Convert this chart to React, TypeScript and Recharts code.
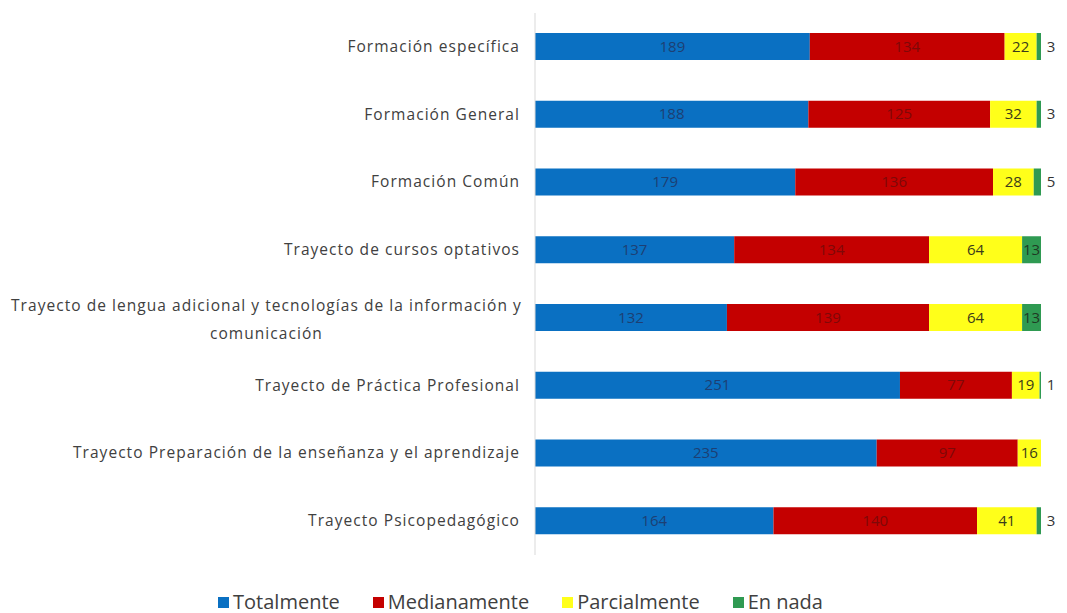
import { Bar, BarChart, LabelList, Legend, XAxis, YAxis } from "recharts"

const categories = [
  "Formación específica",
  "Formación General",
  "Formación Común",
  "Trayecto de cursos optativos",
  "Trayecto de lengua adicional y tecnologías de la información y comunicación",
  "Trayecto de Práctica Profesional",
  "Trayecto Preparación de la enseñanza y el aprendizaje",
  "Trayecto Psicopedagógico",
]
const totalmente = [189, 188, 179, 137, 132, 251, 235, 164]
const medianamente = [134, 125, 136, 134, 139, 77, 97, 140]
const parcialmente = [22, 32, 28, 64, 64, 19, 16, 41]
const enNada = [3, 3, 5, 13, 13, 1, 0, 3]

const data = categories.map((name, i) => ({
  name,
  totalmente: totalmente[i],
  medianamente: medianamente[i],
  parcialmente: parcialmente[i],
  enNada: enNada[i],
}))

const series = [
  { key: "totalmente", label: "Totalmente", color: "#0a70c2", text: "#1d3f73" },
  { key: "medianamente", label: "Medianamente", color: "#c40000", text: "#7e0808" },
  { key: "parcialmente", label: "Parcialmente", color: "#ffff1a", text: "#3b3b1a" },
  { key: "enNada", label: "En nada", color: "#2f9a52", text: "#1f3a24" },
]

const FONT = "'Open Sans', sans-serif"
const TICK_SIZE = 15.5
const TICK_LS = 1.05

// wrap long category names onto two lines, centred like the original
const CategoryTick = (props: any) => {
  const { x, y, payload } = props
  const text: string = payload.value
  const maxChars = 64
  const lines: string[] = []
  let cur = ""
  for (const w of text.split(" ")) {
    if ((cur + " " + w).trim().length > maxChars) {
      lines.push(cur)
      cur = w
    } else {
      cur = (cur + " " + w).trim()
    }
  }
  lines.push(cur)
  const common = {
    fontSize: TICK_SIZE,
    fill: "#404040",
    fontFamily: FONT,
    letterSpacing: TICK_LS,
  }
  if (lines.length === 1) {
    return (
      <text x={x - 7} y={y} dy={5} textAnchor="end" {...common}>
        {text}
      </text>
    )
  }
  const approxW = Math.max(...lines.map((l) => l.length)) * (TICK_SIZE * 0.46 + TICK_LS)
  const cx = x - 7 - approxW / 2
  return (
    <text x={cx} y={y} textAnchor="middle" {...common}>
      {lines.map((l, i) => (
        <tspan key={i} x={cx} dy={i === 0 ? -7 : 28}>
          {l}
        </tspan>
      ))}
    </text>
  )
}

const makeLabel = (textColor: string, outsideSmall: boolean) => (props: any) => {
  const { x, y, width, height, value } = props
  if (!value) return null
  const small = outsideSmall && value < 10
  const lx = small ? x + width + 10 : x + width / 2
  return (
    <text
      x={lx}
      y={y + height / 2}
      dy={5}
      textAnchor="middle"
      fontSize={15}
      fill={small ? "#333333" : textColor}
      fontFamily={FONT}
    >
      {value}
    </text>
  )
}

const LegendContent = () => (
  <div
    style={{
      display: "flex",
      justifyContent: "center",
      alignItems: "center",
      gap: 33,
      fontFamily: FONT,
      fontSize: 20,
      lineHeight: "20px",
      color: "#404040",
      paddingTop: 37,
    }}
  >
    {series.map((s) => (
      <div key={s.key} style={{ display: "flex", alignItems: "center" }}>
        <span style={{ display: "inline-block", width: 11, height: 11, background: s.color, marginRight: 4 }} />
        <span>{s.label}</span>
      </div>
    ))}
  </div>
)

export default function App() {
  return (
    <div style={{ position: "absolute", top: 0, left: 0, background: "#fff" }}>
      <BarChart
        width={1067}
        height={613}
        data={data}
        layout="vertical"
        barSize={27}
        margin={{ top: 13, right: 26, bottom: 0, left: 0 }}
      >
        <XAxis type="number" domain={[0, 348]} hide />
        <YAxis
          type="category"
          dataKey="name"
          width={535}
          axisLine={{ stroke: "#d9d9d9" }}
          tickLine={false}
          tick={<CategoryTick />}
          interval={0}
        />
        <Legend verticalAlign="bottom" height={58} content={<LegendContent />} />
        {series.map((s) => (
          <Bar key={s.key} dataKey={s.key} name={s.label} stackId="a" fill={s.color} isAnimationActive={false}>
            <LabelList dataKey={s.key} content={makeLabel(s.text, s.key === "enNada")} />
          </Bar>
        ))}
      </BarChart>
    </div>
  )
}
